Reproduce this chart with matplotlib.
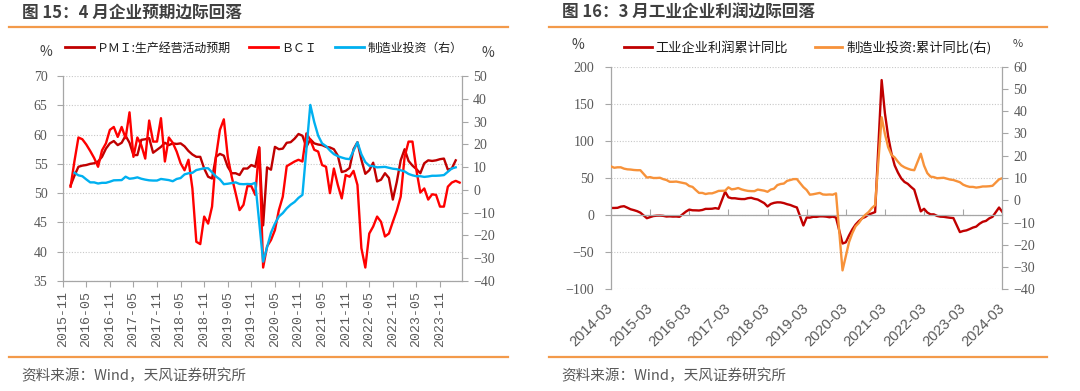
import numpy as np
import pandas as pd
import matplotlib
matplotlib.use('Agg')
import matplotlib.pyplot as plt
from matplotlib.lines import Line2D

plt.rcParams['font.family'] = ['Noto Sans CJK SC', 'DejaVu Sans']
plt.rcParams['axes.unicode_minus'] = True

### left chart (figure 15): monthly, axis starts 2015-11
left_base = '2015-11'
left_ticklabels = ['2015-11', '2016-05', '2016-11', '2017-05', '2017-11', '2018-05',
                   '2018-11', '2019-05', '2019-11', '2020-05', '2020-11', '2021-05',
                   '2021-11', '2022-05', '2022-11', '2023-05', '2023-11']

# PMI: production & business expectation, 2016-01 .. 2024-03
pmi_start = '2016-01'
pmi_expect = [51.3, 53.0, 54.5, 54.7, 54.8, 55.0, 55.1, 55.4, 56.2, 57.6, 58.5, 58.9,
              58.2, 58.6, 59.8, 58.6, 56.5, 56.5, 59.1, 59.2, 59.4, 56.9, 57.4, 57.9,
              58.6, 58.2, 58.5, 58.4, 58.5, 58.0, 57.2, 56.6, 56.2, 56.2, 54.2, 52.8,
              52.5, 56.2, 56.7, 56.4, 54.5, 53.4, 53.4, 53.1, 54.2, 54.2, 54.8, 54.5,
              57.8, 44.5, 54.4, 54.0, 57.9, 57.5, 57.6, 58.6, 58.7, 59.3, 60.1, 59.8,
              57.9, 59.2, 58.5, 58.3, 58.2, 57.9, 57.8, 57.5, 56.4, 53.6, 53.8, 54.3,
              57.5, 58.7, 55.7, 53.3, 53.9, 55.2, 52.0, 52.3, 53.4, 52.6, 48.9, 51.9,
              55.6, 57.5, 55.5, 54.7, 54.1, 53.4, 55.1, 55.6, 55.5, 55.6, 55.8, 55.9,
              54.0, 54.2, 55.6]

# BCI, 2016-01 .. 2024-04
bci_start = '2016-01'
bci = [51.1, 55.5, 59.5, 59.2, 58.3, 57.2, 56.0, 54.5, 57.3, 58.5, 60.8, 61.3,
       59.6, 61.3, 59.4, 63.8, 56.2, 59.5, 58.2, 55.9, 62.4, 58.8, 58.8, 62.8,
       55.4, 59.5, 58.6, 57.1, 55.1, 53.9, 55.7, 50.8, 41.7, 41.3, 46.0, 44.8,
       47.7, 56.2, 60.8, 62.6, 56.2, 52.8, 50.0, 47.1, 48.0, 51.2, 51.2, 49.7,
       57.8, 37.3, 40.9, 42.0, 43.7, 47.1, 49.4, 54.6, 55.0, 55.4, 55.7, 55.4,
       60.2, 59.1, 57.4, 57.1, 54.8, 54.5, 50.0, 54.2, 51.4, 49.1, 53.1, 52.8,
       53.8, 51.4, 40.6, 37.3, 43.1, 44.3, 46.0, 45.1, 42.6, 43.1, 45.1, 47.0,
       49.4, 56.2, 58.8, 58.8, 53.9, 50.1, 50.8, 48.9, 49.8, 49.7, 47.7, 47.7,
       51.1, 51.8, 52.1, 51.8]

### right chart (figure 16): monthly cumulative yoy, 2014-03 .. 2024-03 (no January release)
right_base = '2014-03'
right_ticklabels = ['2014-03', '2015-03', '2016-03', '2017-03', '2018-03', '2019-03',
                    '2020-03', '2021-03', '2022-03', '2023-03', '2024-03']

profit_cum = [9.6, 9.6, 9.8, 11.4, 12.0, 10.0, 7.9, 6.7, 5.3, 3.3,
              None, -4.2, -2.7, -1.3, -0.8, -0.7, -1.0, -1.9, -1.7, -2.0, -1.9, -2.3,
              None, 4.8, 7.4, 6.5, 6.4, 6.2, 6.9, 8.4, 8.4, 8.6, 9.4, 8.5,
              None, 31.5, 24.0, 22.7, 22.7, 22.0, 21.6, 21.6, 22.8, 23.3, 21.9, 21.0,
              None, 16.1, 11.6, 15.0, 16.5, 17.2, 17.1, 16.2, 14.7, 13.6, 11.8, 10.3,
              None, -14.0, -3.3, -3.4, -2.3, -2.4, -1.7, -1.7, -2.1, -2.9, -2.1, -3.3,
              None, -38.3, -36.7, -27.4, -19.3, -12.8, -8.1, -4.4, -2.4, 0.7, 2.4, 4.1,
              None, 182.0, 137.3, 106.0, 83.4, 66.9, 57.3, 49.5, 44.7, 42.2, 38.0, 34.3,
              None, 5.0, 8.5, 3.5, 1.0, 1.0, -1.1, -2.1, -2.3, -3.0, -3.6, -4.0,
              None, -22.9, -21.4, -20.6, -18.8, -16.8, -15.5, -11.7, -9.0, -7.8, -4.4, -2.3,
              None, 10.2, 4.3]

mfg_inv_cum = [15.2, 14.6, 14.8, 14.8, 14.2, 13.9, 13.8, 13.6, 13.5, 13.5,
               None, 10.2, 10.4, 10.0, 10.0, 10.1, 9.5, 9.1, 8.3, 8.3, 8.4, 8.1,
               None, 7.5, 6.4, 6.0, 4.6, 3.3, 3.3, 2.8, 3.1, 3.1, 3.6, 4.2,
               None, 4.3, 5.8, 4.9, 5.1, 5.5, 4.9, 4.5, 4.2, 4.1, 4.1, 4.8,
               None, 4.3, 3.8, 4.8, 5.2, 6.8, 7.3, 7.5, 8.7, 9.1, 9.5, 9.5,
               None, 5.9, 4.6, 2.5, 2.7, 3.0, 3.3, 2.6, 2.5, 2.6, 2.5, 3.1,
               None, -31.5, -25.2, -18.8, -14.8, -11.7, -10.2, -8.1, -6.5, -5.3, -3.5, -2.2,
               None, 37.3, 29.8, 23.8, 20.4, 19.2, 17.3, 15.7, 14.8, 14.2, 13.7, 13.5,
               None, 20.9, 15.6, 12.2, 10.6, 10.4, 9.9, 10.0, 10.1, 9.7, 9.3, 9.1,
               None, 8.1, 7.0, 6.4, 6.0, 6.0, 5.7, 5.9, 6.2, 6.2, 6.3, 6.5,
               None, 9.4, 9.9]
mfg_in_left_from = '2016-02'   # left chart shows the investment series from here

C_DARK = '#C00000'
C_RED = '#FF0000'
C_BLUE = '#00B0F0'
C_ORANGE = '#F7923A'
C_SEP = '#F39A4A'
C_AXIS = '#A6A6A6'
C_TICK = '#595959'
C_GRID = '#C8C8C8'


def month_x(start, n, base):
    p0 = pd.Period(base, 'M')
    return np.array([(p - p0).n for p in pd.period_range(start, periods=n, freq='M')], dtype=float)


def series(vals):
    return np.array([np.nan if v is None else v for v in vals], dtype=float)


def draw(ax, x, y, **kw):
    m = ~np.isnan(y)
    ax.plot(x[m], y[m], **kw)


fig = plt.figure(figsize=(10.8, 3.91), dpi=100)
W, H = 1080.0, 391.0

# ---------------- left chart ----------------
axL = fig.add_axes([62.7 / W, 1 - 281 / H, (462 - 62.7) / W, 205 / H])
axL2 = axL.twinx()

draw(axL, month_x(pmi_start, len(pmi_expect), left_base), series(pmi_expect), color=C_DARK, lw=1.7)
draw(axL, month_x(bci_start, len(bci), left_base), series(bci), color=C_RED, lw=1.7)
x_inv = month_x(right_base, len(mfg_inv_cum), left_base)
y_inv = series(mfg_inv_cum)
keep = x_inv >= (pd.Period(mfg_in_left_from, 'M') - pd.Period(left_base, 'M')).n
draw(axL2, x_inv[keep], y_inv[keep], color=C_BLUE, lw=1.7)

axL.set_xlim(0, 101.6)
axL.set_ylim(35, 70)
axL.set_yticks(np.arange(35, 71, 5))
axL2.set_ylim(-40, 50)
axL2.set_yticks(np.arange(-40, 51, 10))
axL.set_xticks(np.arange(0, 6 * len(left_ticklabels), 6), left_ticklabels)
axL.yaxis.grid(True, linestyle=(0, (1, 1.5)), color=C_GRID, lw=0.8)
axL.set_axisbelow(True)

for a in (axL, axL2):
    for s in a.spines.values():
        s.set_color(C_AXIS)
        s.set_linewidth(0.9)
    a.spines['top'].set_visible(False)
axL.spines['right'].set_visible(False)
axL2.spines['left'].set_visible(False)
axL2.spines['bottom'].set_visible(False)

axL.tick_params(axis='y', length=4, color=C_AXIS, pad=7, labelsize=10,
                labelcolor=C_TICK, labelfontfamily='Liberation Serif')
axL2.tick_params(axis='y', length=4, color=C_AXIS, pad=4, labelsize=10,
                 labelcolor=C_TICK, labelfontfamily='Liberation Serif')
axL.tick_params(axis='x', length=4, color=C_AXIS, pad=3, labelsize=9.5, labelrotation=90,
                labelcolor=C_TICK, labelfontfamily='Liberation Mono')

handles = [Line2D([], [], color=C_DARK, lw=2), Line2D([], [], color=C_RED, lw=2),
           Line2D([], [], color=C_BLUE, lw=2)]
fig.legend(handles, ['ＰＭＩ:生产经营活动预期', 'ＢＣＩ', '制造业投资（右）'], ncol=3,
           loc='center left', bbox_to_anchor=(65 / W, 1 - 48 / H), frameon=False,
           fontsize=8.6, handlelength=2.4, handletextpad=0.3, columnspacing=1.5,
           borderpad=0, borderaxespad=0, labelcolor='#1A1A1A')
fig.text(46 / W, 1 - 52 / H, '%', fontsize=10, color='#404040', ha='center', va='center')
fig.text(488 / W, 1 - 53 / H, '%', fontsize=10, color='#404040', ha='center', va='center')

# ---------------- right chart ----------------
axR = fig.add_axes([611 / W, 1 - 289.3 / H, (1002.3 - 611) / W, (289.3 - 66.7) / H])
axR2 = axR.twinx()

xr = month_x(right_base, len(profit_cum), right_base)
draw(axR, xr, series(profit_cum), color=C_DARK, lw=1.7)
draw(axR2, xr, series(mfg_inv_cum), color=C_ORANGE, lw=1.7)

axR.set_xlim(0, 120)
axR.set_ylim(-100, 200)
axR.set_yticks(np.arange(-100, 201, 50))
axR2.set_ylim(-40, 60)
axR2.set_yticks(np.arange(-40, 61, 10))
axR.set_xticks(np.arange(0, 12 * len(right_ticklabels), 12), right_ticklabels)
axR.yaxis.grid(True, linestyle=(0, (1, 1.5)), color=C_GRID, lw=0.8)
axR.set_axisbelow(True)

for a in (axR, axR2):
    for s in a.spines.values():
        s.set_color(C_AXIS)
        s.set_linewidth(0.9)
    a.spines['top'].set_visible(False)
axR.spines['right'].set_visible(False)
axR.spines['bottom'].set_position(('data', 0))
axR2.spines['left'].set_visible(False)
axR2.spines['bottom'].set_visible(False)

axR.tick_params(axis='y', length=4, color=C_AXIS, pad=8, labelsize=10,
                labelcolor=C_TICK, labelfontfamily='Liberation Serif')
axR2.tick_params(axis='y', length=4, color=C_AXIS, pad=4, labelsize=10,
                 labelcolor=C_TICK, labelfontfamily='Liberation Serif')
axR.tick_params(axis='x', direction='in', length=4, color=C_AXIS, labelbottom=False)

# x labels sit low, below the plot, while the axis line crosses at zero
axR2.xaxis.set_visible(True)
axR2.tick_params(axis='x', length=0, pad=12, labelbottom=True, labeltop=False,
                 labelsize=10.5, labelcolor=C_TICK, labelrotation=45,
                 labelfontfamily='Liberation Sans')
for lab in axR2.get_xticklabels():
    lab.set_ha('right')
    lab.set_va('center')
    lab.set_rotation_mode('anchor')

handles = [Line2D([], [], color=C_DARK, lw=2), Line2D([], [], color=C_ORANGE, lw=2)]
fig.legend(handles, ['工业企业利润累计同比', '制造业投资:累计同比(右)'], ncol=2,
           loc='center left', bbox_to_anchor=(624 / W, 1 - 48 / H), frameon=False,
           fontsize=9.5, handlelength=2.1, handletextpad=0.3, columnspacing=2.0,
           borderpad=0, borderaxespad=0, labelcolor='#1A1A1A')
fig.text(578 / W, 1 - 45 / H, '%', fontsize=10, color='#404040', ha='center', va='center')
fig.text(1018 / W, 1 - 44 / H, '%', fontsize=8, color='#404040', ha='center', va='center')

# ---------------- titles, separators, sources ----------------
for x0, title in ((22, '图 15：4 月企业预期边际回落'), (562, '图 16：3 月工业企业利润边际回落')):
    fig.text(x0 / W, 1 - 13 / H, title, fontsize=12, fontweight='bold', color='#404040', va='center')
    fig.text((x0 - 1) / W, 1 - 376 / H, '资料来源：Wind，天风证券研究所', fontsize=10.5,
             color='#595959', va='center')

for x0, x1 in ((9, 508), (549, 1047)):
    for yy in (27, 357):
        fig.add_artist(Line2D([x0 / W, x1 / W], [1 - yy / H, 1 - yy / H], color=C_SEP, lw=1.6))

fig.savefig('out.png', dpi=100)
